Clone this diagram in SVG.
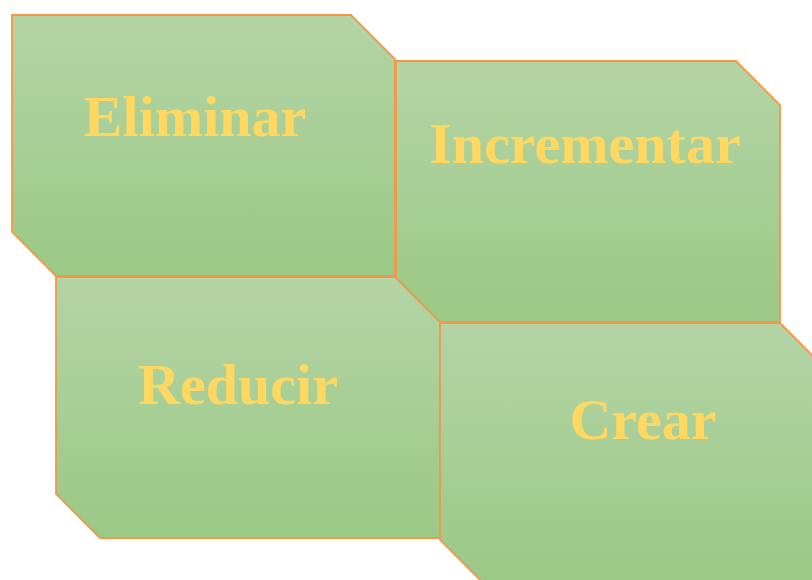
<svg xmlns="http://www.w3.org/2000/svg" width="812" height="580" viewBox="0 0 812 580">
  <style>
    .block { stroke: #f79646; stroke-width: 1.8; stroke-linejoin: miter; fill: url(#greenFade); }
    .label { font-family: "Liberation Serif", "Times New Roman", serif; font-weight: bold; font-size: 58px; fill: #ffd862; text-anchor: middle; }
  </style>
  <defs>
    <linearGradient id="greenFade" x1="0" y1="0" x2="0" y2="1">
      <stop offset="0" stop-color="#b4d4a6"/>
      <stop offset="1" stop-color="#9bc985"/>
    </linearGradient>
  </defs>
  <rect width="812" height="580" fill="#ffffff"/>

  <g id="eliminar">
    <polygon class="block" points="12,15 351,15 395,59 395,276 56,276 12,232"/>
    <text class="label" x="195" y="136">Eliminar</text>
  </g>

  <g id="incrementar">
    <polygon class="block" points="396,61 736,61 780,105 780,322 440,322 396,278"/>
    <text class="label" x="585" y="163">Incrementar</text>
  </g>

  <g id="reducir">
    <polygon class="block" points="56,277 395,277 440,322 440,538 100,538 56,494"/>
    <text class="label" x="238" y="404">Reducir</text>
  </g>

  <g id="crear">
    <polygon class="block" points="440,323 780,323 824,367 824,584 484,584 440,540"/>
    <text class="label" x="643" y="439">Crear</text>
  </g>

  <g id="connectors"></g>
</svg>
